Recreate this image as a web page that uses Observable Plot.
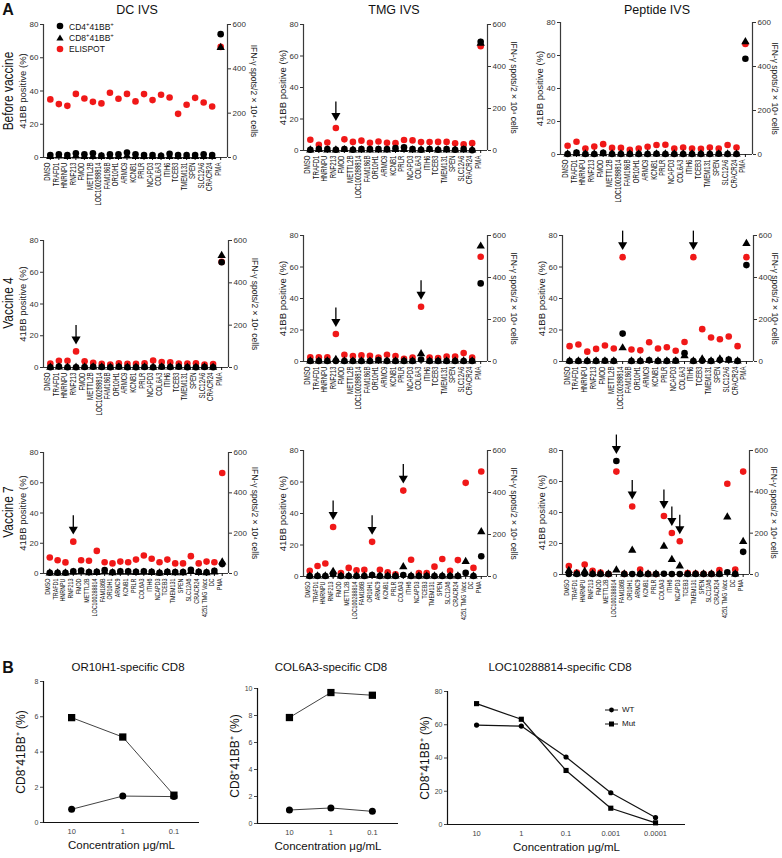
<!DOCTYPE html>
<html><head><meta charset="utf-8">
<script src="https://cdn.jsdelivr.net/npm/d3@7"></script>
<script src="https://cdn.jsdelivr.net/npm/@observablehq/plot@0.6"></script>
<style>
body{margin:0;background:#fff;}
#root{position:relative;width:782px;height:858px;overflow:hidden;font-family:"Liberation Sans",Arial,Helvetica,sans-serif;color:#111;}
.lab{position:absolute;white-space:nowrap;transform-origin:center center;line-height:1;}
.plt{position:absolute;}
</style></head><body><div id="root"></div>
<script>
// ---------- categories ----------
const catsA = ["DMSO","TRAFD1","HNRNPU","RNF213","FMOD","METTL2B","LOC100288814","FAM186B","OR10H1","ARMC9","KCNB1","PRLR","NCAPD3","COL6A3","ITIH6","TCEB3","TMEM131","SPEN","SLC12A6","CRACR24","PMA"];
const catsA7 = ["DMSO","TRAFD1","HNRNPU","RNF213","FMOD","METTL2B","LOC100288814","FAM186B","OR10H1","ARMC9","KCNB1","PRLR","COL6A3","ITIH6","NCAPD3","TCEB3","TMEM131","SPEN","SLC12A6","CRACR24","4251 TMG Vacc","DC","PMA"];

// ---------- Before vaccine ----------
const dcBeforeSpots = [262,241,233,287,266,251,244,292,265,287,253,286,259,283,271,197,238,269,248,230,499];
const dcBeforeCD4 = [1.5,2,1.5,2.5,2,2.5,1.2,2,2,3,2,1.5,1.5,1,2.2,1.5,1.5,1.5,2,1.5,74.2];
const dcBeforeCD8 = [0.5,0.8,0.5,0.8,0.6,0.6,0.5,0.6,0.6,0.8,0.5,0.5,0.5,0.5,0.6,0.5,0.5,0.5,0.6,0.5,66.1];
const dcBeforeArrows = [];

const tmgBeforeSpots = [51,27,38,107,53,41,47,37,43,37,35,50,48,40,40,41,41,34,29,35,497];
const tmgBeforeCD4 = [0.5,1,1,0.5,1,0.5,1,1,1,1,1.5,2,1,0.5,1,0.5,1,0.5,1,0.2,69];
const tmgBeforeCD8 = [0.3,0.5,0.3,0.3,0.5,0.3,0.3,0.3,0.3,0.3,0.5,0.5,0.3,0.3,0.5,0.3,0.3,0.3,0.3,0.2,68];
const tmgBeforeArrows = ["RNF213"];

const pepBeforeSpots = [40,58,27,36,47,30,30,21,27,35,43,44,27,32,27,26,32,27,43,32,502];
const pepBeforeCD4 = [0.3,1.2,0.3,0.3,1,0.3,0.3,0.3,0.3,0.3,0.5,0.3,0.3,0.3,0.3,0.3,0.3,0.5,0.3,0.3,58];
const pepBeforeCD8 = [0.2,0.4,0.2,0.2,0.4,0.2,0.2,0.2,0.2,0.2,0.2,0.2,0.2,0.2,0.2,0.2,0.2,0.3,0.2,0.2,68.3];
const pepBeforeArrows = [];

// ---------- Vaccine 4 ----------
const dcV4Spots = [19,32,32,76,29,22,17,14,20,17,17,20,33,26,24,19,19,20,14,16,499];
const dcV4CD4 = [0.2,0.6,0.2,0.2,0.3,0.5,0.3,0.2,0.5,0.2,0.2,0.3,0.2,0.5,0.3,0.5,0.2,0.2,0.3,0.2,66.3];
const dcV4CD8 = [0.1,0.3,0.1,0.1,0.2,0.3,0.2,0.1,0.3,0.1,0.1,0.2,0.1,0.3,0.2,0.3,0.1,0.1,0.2,0.1,70.5];
const dcV4Arrows = ["RNF213"];

const tmgV4Spots = [20,20,20,131,32,26,29,27,19,32,26,13,19,261,19,16,24,24,40,19,499];
const tmgV4CD4 = [0.3,0.3,0.3,0.3,0.3,0.3,0.3,0.3,1,0.3,0.3,0.3,0.3,1.3,0.3,0.3,0.3,0.3,0.3,0.3,49.6];
const tmgV4CD8 = [0.2,0.2,0.2,1.3,0.2,0.2,0.2,0.2,0.3,0.2,0.2,0.2,0.2,4.9,0.2,0.2,0.2,0.2,0.2,0.2,73.2];
const tmgV4Arrows = ["RNF213","COL6A3"];

const pepV4Spots = [73,81,47,60,76,62,497,57,53,92,62,68,51,93,497,154,114,106,119,73,497];
const pepV4CD4 = [0.3,0.3,0.3,0.3,0.5,0.3,17.7,0.3,0.3,0.8,0.3,0.3,0.5,5.3,0.3,0.5,0.3,1,1.2,0.3,61.2];
const pepV4CD8 = [0.2,0.2,0.2,0.2,0.3,0.2,8.6,0.2,0.2,0.5,0.2,0.2,0.3,3.6,0.2,1.5,0.2,1.5,0.8,0.2,74.9];
const pepV4Arrows = ["LOC100288814","ITIH6"];

// ---------- Vaccine 7 ----------
const dcV7Spots = [79,66,55,158,66,63,112,56,50,59,56,69,89,73,56,69,50,50,86,50,59,56,498];
const dcV7CD4 = [0.5,0.5,0.5,1.5,2,1,1.2,2.2,0.8,1.5,1.5,1.2,1.5,1.2,0.5,1.2,1,1,2.5,1.2,0.8,1.8,6.2];
const dcV7CD8 = [0.3,0.3,0.3,0.8,1,0.5,0.6,1,0.4,0.8,0.8,0.6,0.8,0.6,0.3,0.6,0.5,0.5,1.2,0.6,0.4,0.9,7.5];
const dcV7Arrows = ["RNF213"];

const tmgV7Spots = [27,50,62,236,16,41,30,32,165,32,20,11,409,80,16,16,47,83,27,78,446,41,500];
const tmgV7CD4 = [0.3,0.3,0.3,1.5,0.3,0.3,0.3,0.3,1,0.3,0.3,0.3,1,0.3,0.3,0.3,0.3,0.3,0.3,0.3,2.3,0.3,12.9];
const tmgV7CD8 = [0.2,0.2,0.2,3.2,0.2,0.2,0.2,0.2,0.5,0.2,0.2,0.2,6.1,0.2,0.2,0.2,0.2,0.2,0.2,0.2,9.5,0.2,28.3];
const tmgV7Arrows = ["RNF213","OR10H1","COL6A3"];

const pepV7Spots = [41,10,48,18,10,2,498,3,329,24,3,2,283,201,161,7,5,3,3,21,439,24,498];
const pepV7CD4 = [0.3,0.3,0.5,0.3,0.3,0.3,73.2,0.3,0.3,0.3,0.3,0.3,0.5,0.3,0.3,0.3,0.3,0.3,0.3,0.3,1.5,0.3,14.6];
const pepV7CD8 = [2.5,0.5,2,0.5,0.5,0.2,2.8,0.2,15.6,0.5,0.2,0.2,18.2,9.6,5.4,0.3,0.2,0.2,0.2,0.3,37,0.3,21.2];
const pepV7Arrows = ["LOC100288814","OR10H1","COL6A3","ITIH6","NCAPD3"];

// ---------- Part B ----------
const concShort = ["10","1","0.1"];
const concLong = ["10","1","0.1","0.001","0.0001"];
const or10h1WT = [0.75,1.5,1.47];
const or10h1Mut = [5.95,4.85,1.55];
const col6a3WT = [1.0,1.15,0.9];
const col6a3Mut = [7.85,9.7,9.5];
const locWT = [59.8,59.2,40.6,19.1,4.2];
const locMut = [72.7,63.3,32.5,9.8,1.0];

const leftTicks = [0,20,40,60,80];
const rightTicks = [0,200,400,600];

// ---------- helpers ----------
const root = document.getElementById("root");
const FONT = '"Liberation Sans", Arial, Helvetica, sans-serif';
const RED = "#f01818";
const AX = "#3a3a3a";

function label(html, x, y, opt = {}) {
  const d = document.createElement("div");
  d.className = "lab";
  d.innerHTML = html;
  d.style.left = x + "px";
  d.style.top = y + "px";
  d.style.fontSize = (opt.size || 12) + "px";
  if (opt.weight) d.style.fontWeight = opt.weight;
  d.style.transform = `translate(-50%,-50%) rotate(${opt.rotate || 0}deg) scale(${opt.sx || 1},1)`;
  root.appendChild(d);
}

function place(svg, x, y) {
  svg.classList.add("plt");
  svg.style.left = x + "px";
  svg.style.top = y + "px";
  root.appendChild(svg);
}

function squeezeTicks(svg, sx) {
  svg.querySelectorAll('[aria-label="x-axis tick label"] text').forEach(t => {
    let tr = t.getAttribute("transform") || "";
    if (t.hasAttribute("x") || t.hasAttribute("y")) {
      const x = +t.getAttribute("x") || 0, y = +t.getAttribute("y") || 0;
      t.removeAttribute("x"); t.removeAttribute("y");
      tr = `translate(${x},${y}) ` + tr;
    }
    t.setAttribute("transform", tr + ` scale(${sx},1)`);
  });
}

function panelA(g) {
  const {cats, spots, cd4, cd8, arrows, L, R, T, B, fs, sx, rdx = 26} = g;
  const ml = 34, mr = 40, mt = 8, mb = 62;
  const n = cats.length, pad = 0.8;
  const ppu = (B - T) / 80;
  const rows = cats.map((c, i) => ({i, red: spots[i] * 80 / 600, cd4: cd4[i], cd8: cd8[i]}));
  const arrowRows = arrows.map(a => {
    const i = cats.indexOf(a);
    return {i, top: Math.max(rows[i].red, rows[i].cd4, rows[i].cd8)};
  });
  const gap = 7;
  const svg = Plot.plot({
    width: R - L + ml + mr, height: B - T + mt + mb,
    marginLeft: ml, marginRight: mr, marginTop: mt, marginBottom: mb,
    style: {background: "transparent", overflow: "visible", fontFamily: FONT},
    x: {type: "linear", domain: [-pad, n - 1 + pad], label: null},
    y: {domain: [0, 80], label: null},
    marks: [
      Plot.ruleY([0], {stroke: AX, strokeWidth: 1.2}),
      Plot.ruleX([-pad], {stroke: AX, strokeWidth: 1.2}),
      Plot.ruleX([n - 1 + pad], {stroke: AX, strokeWidth: 1.2}),
      Plot.axisX(d3.range(n), {tickFormat: i => cats[i], tickRotate: -90, tickSize: 3, tickPadding: 2, fontSize: fs, color: "#111", label: null}),
      Plot.axisY(leftTicks, {anchor: "left", tickSize: 3, tickPadding: 2, fontSize: 8, color: "#333", label: null}),
      Plot.axisY(rightTicks.map(v => v * 80 / 600), {anchor: "right", tickFormat: d => Math.round(d * 600 / 80), tickSize: 3, tickPadding: 2, fontSize: 8, color: "#333", label: null}),
      Plot.text(["41BB positive (%)"], {frameAnchor: "left", textAnchor: "middle", lineAnchor: "middle", rotate: -90, dx: -21, fontSize: 9.5, fill: "#222"}),
      Plot.text(["IFN-γ spots/2 × 10⁴ cells"], {frameAnchor: "right", textAnchor: "middle", lineAnchor: "middle", rotate: 90, dx: rdx, fontSize: 8.5, fill: "#222"}),
      Plot.dot(rows, {x: "i", y: "red", fill: RED, r: 3.3}),
      Plot.dot(rows, {x: "i", y: "cd4", fill: "#000", r: 3.3}),
      Plot.dot(rows, {x: "i", y: "cd8", symbol: "triangle", fill: "#000", r: 3.1}),
      Plot.ruleX(arrowRows, {x: "i", y1: d => d.top + (gap + 5) / ppu, y2: d => d.top + (gap + 19) / ppu, stroke: "#000", strokeWidth: 1.3}),
      Plot.dot(arrowRows, {x: "i", y: "top", dy: -(gap + 5.3), symbol: "triangle", rotate: 180, r: 3.4, fill: "#000"})
    ]
  });
  squeezeTicks(svg, sx);
  place(svg, L - ml, T - mt);
}

function panelB(g) {
  const {cats, wt, mut, L, R, T, B, ymax, yticks, padL, padR, rSq, rC, sw} = g;
  const ml = 40, mr = 12, mt = 6, mb = 34;
  const n = cats.length;
  const rows = cats.map((c, i) => ({i, wt: wt[i], mut: mut[i]}));
  const svg = Plot.plot({
    width: R - L + ml + mr, height: B - T + mt + mb,
    marginLeft: ml, marginRight: mr, marginTop: mt, marginBottom: mb,
    style: {background: "transparent", overflow: "visible", fontFamily: FONT},
    x: {type: "linear", domain: [-padL, n - 1 + padR], label: null},
    y: {domain: [0, ymax], label: null},
    marks: [
      Plot.ruleY([0], {stroke: "#111", strokeWidth: 1.2}),
      Plot.ruleX([-padL], {stroke: "#111", strokeWidth: 1.2}),
      Plot.axisY(yticks, {anchor: "left", tickSize: 3, tickPadding: 2, fontSize: 7, color: "#444", label: null}),
      Plot.axisX(d3.range(n), {tickFormat: i => cats[i], tickSize: 0, tickPadding: 6, fontSize: 7.5, color: "#444", label: null}),
      Plot.line(rows, {x: "i", y: "wt", stroke: "#111", strokeWidth: sw}),
      Plot.line(rows, {x: "i", y: "mut", stroke: "#111", strokeWidth: sw}),
      Plot.dot(rows, {x: "i", y: "wt", fill: "#000", r: rC}),
      Plot.dot(rows, {x: "i", y: "mut", symbol: "square", fill: "#000", r: rSq}),
      Plot.text(["CD8⁺41BB⁺ (%)"], {frameAnchor: "left", textAnchor: "middle", lineAnchor: "middle", rotate: -90, dx: -22, fontSize: 12, fill: "#111"}),
      Plot.text(["Concentration μg/mL"], {frameAnchor: "bottom", textAnchor: "middle", lineAnchor: "middle", dy: 23, fontSize: 11.5, fill: "#111"})
    ]
  });
  place(svg, L - ml, T - mt);
}

// ---------- Part A panels ----------
const FS = 8.6, SX = 0.71, FS7 = 7.6, SX7 = 0.71;
panelA({cats: catsA, spots: dcBeforeSpots, cd4: dcBeforeCD4, cd8: dcBeforeCD8, arrows: dcBeforeArrows, L: 43, R: 227, T: 24, B: 157, fs: FS, sx: SX});
panelA({cats: catsA, spots: tmgBeforeSpots, cd4: tmgBeforeCD4, cd8: tmgBeforeCD8, arrows: tmgBeforeArrows, L: 303, R: 487, T: 24, B: 150, fs: FS, sx: SX});
panelA({cats: catsA, spots: pepBeforeSpots, cd4: pepBeforeCD4, cd8: pepBeforeCD8, arrows: pepBeforeArrows, L: 560, R: 752, T: 22, B: 154, fs: FS, sx: SX, rdx: 22});

panelA({cats: catsA, spots: dcV4Spots, cd4: dcV4CD4, cd8: dcV4CD8, arrows: dcV4Arrows, L: 43, R: 228, T: 240, B: 367, fs: FS, sx: SX});
panelA({cats: catsA, spots: tmgV4Spots, cd4: tmgV4CD4, cd8: tmgV4CD8, arrows: tmgV4Arrows, L: 303, R: 487, T: 235, B: 361, fs: FS, sx: SX});
panelA({cats: catsA, spots: pepV4Spots, cd4: pepV4CD4, cd8: pepV4CD8, arrows: pepV4Arrows, L: 562, R: 753, T: 235, B: 361, fs: FS, sx: SX, rdx: 21});

panelA({cats: catsA7, spots: dcV7Spots, cd4: dcV7CD4, cd8: dcV7CD8, arrows: dcV7Arrows, L: 43, R: 228, T: 452, B: 573, fs: FS7, sx: SX7});
panelA({cats: catsA7, spots: tmgV7Spots, cd4: tmgV7CD4, cd8: tmgV7CD8, arrows: tmgV7Arrows, L: 303, R: 487, T: 450, B: 576, fs: FS7, sx: SX7});
panelA({cats: catsA7, spots: pepV7Spots, cd4: pepV7CD4, cd8: pepV7CD8, arrows: pepV7Arrows, L: 562, R: 749, T: 450, B: 574, fs: FS7, sx: SX7, rdx: 24});

// ---------- Part B panels ----------
panelB({cats: concShort, wt: or10h1WT, mut: or10h1Mut, L: 43, R: 199, T: 681, B: 822, ymax: 8, yticks: [0,2,4,6,8], padL: 0.55, padR: 0.5, rSq: 4.1, rC: 3.5, sw: 0.8});
panelB({cats: concShort, wt: col6a3WT, mut: col6a3Mut, L: 257, R: 398, T: 688, B: 823, ymax: 10, yticks: [0,2,4,6,8,10], padL: 0.77, padR: 0.63, rSq: 4.1, rC: 3.5, sw: 0.8});
panelB({cats: concLong, wt: locWT, mut: locMut, L: 447, R: 685, T: 691, B: 824, ymax: 80, yticks: [0,20,40,60,80], padL: 0.65, padR: 0.67, rSq: 2.9, rC: 2.6, sw: 1.2});

// ---------- text labels ----------
label("A", 8, 10, {size: 16, weight: "bold"});
label("B", 8, 668, {size: 16, weight: "bold"});
label("DC IVS", 137, 10, {size: 12.5});
label("TMG IVS", 394, 10, {size: 12.5});
label("Peptide IVS", 657, 10, {size: 12.5});
label("Before vaccine", 8, 91, {size: 14, rotate: -90, sx: 0.85});
label("Vaccine 4", 8, 303, {size: 14, rotate: -90, sx: 0.85});
label("Vaccine 7", 8, 512, {size: 14, rotate: -90, sx: 0.85});
label("OR10H1-specific CD8", 128, 668, {size: 11.5});
label("COL6A3-specific CD8", 331, 668, {size: 11.5});
label("LOC10288814-specific CD8", 560, 668, {size: 11.5});

// legend part A
function legendRow(shape, text, x, y) {
  const d = document.createElement("div");
  d.className = "lab";
  d.style.left = (x - 5) + "px";
  d.style.top = (y - 6) + "px";
  d.style.fontSize = "8.5px";
  d.style.display = "flex";
  d.style.alignItems = "center";
  d.innerHTML = `<svg width="10" height="12" style="margin-right:4px">${shape}</svg><span>${text}</span>`;
  root.appendChild(d);
}
legendRow('<circle cx="5" cy="6" r="3.3" fill="#000"/>', "CD4<sup style='font-size:6px'>+</sup>41BB<sup style='font-size:6px'>+</sup>", 60, 26);
legendRow('<path d="M5,2.4 L8.6,8.6 L1.4,8.6 Z" fill="#000"/>', "CD8<sup style='font-size:6px'>+</sup>41BB<sup style='font-size:6px'>+</sup>", 60, 37.5);
legendRow(`<circle cx="5" cy="6" r="3.3" fill="${RED}"/>`, "ELISPOT", 60, 49);

// legend part B
function legendB(shape, text, x, y) {
  const d = document.createElement("div");
  d.className = "lab";
  d.style.left = x + "px";
  d.style.top = (y - 5) + "px";
  d.style.fontSize = "8px";
  d.style.display = "flex";
  d.style.alignItems = "center";
  d.innerHTML = `<svg width="13" height="10" style="margin-right:4px"><line x1="0" y1="5" x2="13" y2="5" stroke="#111" stroke-width="1"/>${shape}</svg><span>${text}</span>`;
  root.appendChild(d);
}
legendB('<circle cx="6.5" cy="5" r="2.4" fill="#000"/>', "WT", 605, 710);
legendB('<rect x="4" y="2.5" width="5" height="5" fill="#000"/>', "Mut", 605, 724);
</script></body></html>
